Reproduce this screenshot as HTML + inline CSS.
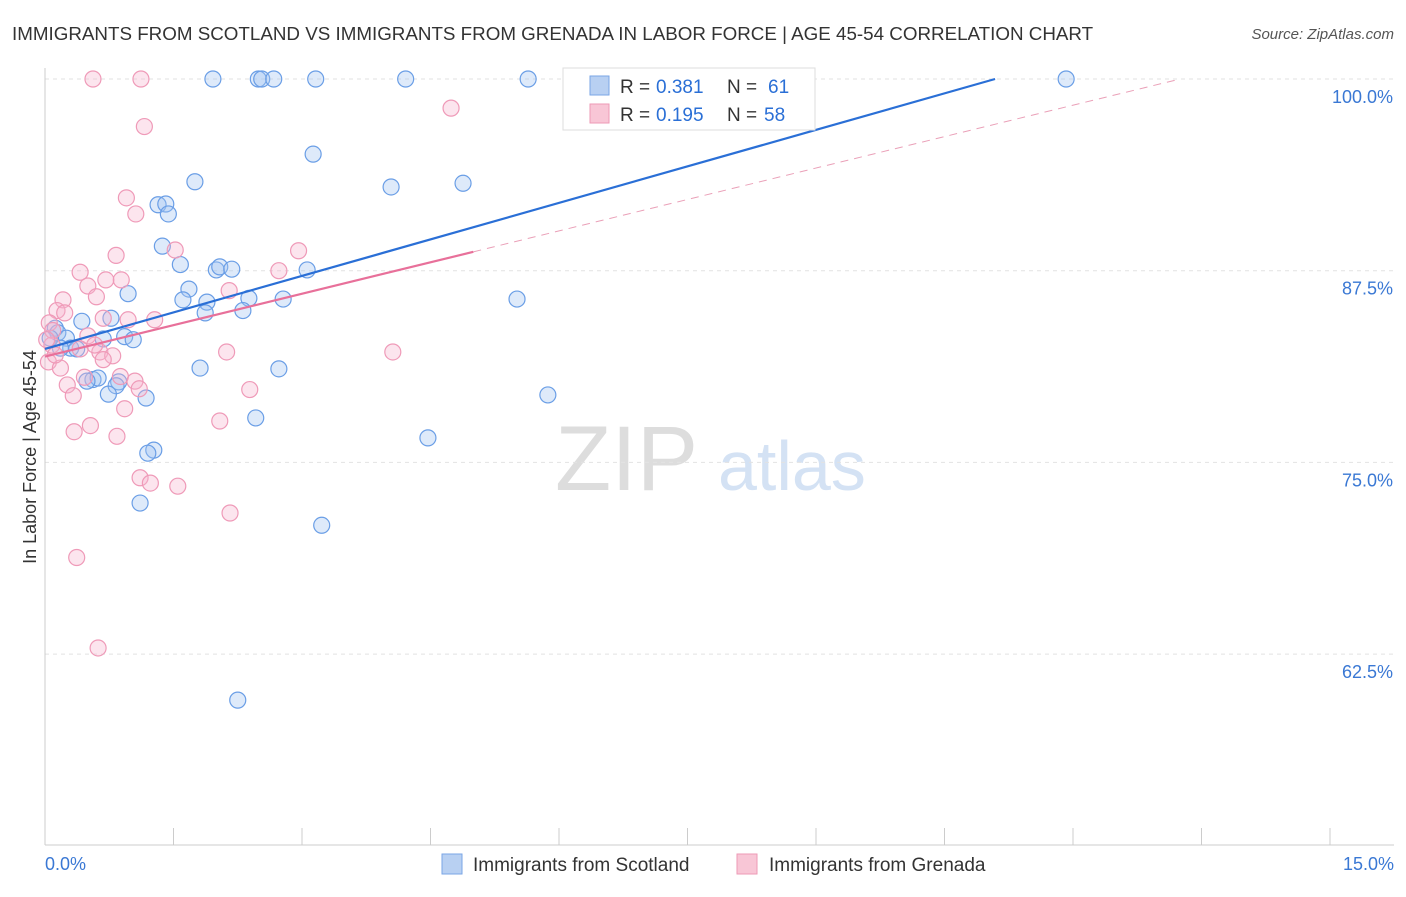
<!DOCTYPE html>
<html><head><meta charset="utf-8"><style>
body{margin:0;background:#fff;font-family:"Liberation Sans",sans-serif;}
svg text{font-family:"Liberation Sans",sans-serif;}
</style></head><body>
<svg id="c" width="1406" height="892">
<text x="12" y="40" font-size="18.8" fill="#333">IMMIGRANTS FROM SCOTLAND VS IMMIGRANTS FROM GRENADA IN LABOR FORCE | AGE 45-54 CORRELATION CHART</text>
<text x="1394" y="39" font-size="15" fill="#555" font-style="italic" text-anchor="end">Source: ZipAtlas.com</text>
<text x="36" y="457" font-size="18" fill="#333" transform="rotate(-90 36 457)" text-anchor="middle">In Labor Force | Age 45-54</text>
<text x="555" y="490" font-size="92" fill="#ddd" font-family="Liberation Serif">ZIP</text>
<text x="718" y="490" font-size="70" fill="#d4e2f4">atlas</text>
<g id="grid"></g><g id="axes"></g><g id="pts"></g><g id="lines"></g>
<g>
<rect x="563" y="68" width="252" height="62" fill="#fff" stroke="#ddd"/>
<rect x="590" y="76" width="19" height="19" fill="#b8d0f2" stroke="#7aa6e6"/>
<rect x="590" y="104" width="19" height="19" fill="#f8c6d6" stroke="#ee9ab6"/>
<text x="620" y="93" font-size="19" fill="#333">R =</text>
<text x="656" y="93" font-size="19" fill="#2a6fd6">0.381</text>
<text x="727" y="93" font-size="19" fill="#333">N =</text>
<text x="768" y="93" font-size="19" fill="#2a6fd6">61</text>
<text x="620" y="121" font-size="19" fill="#333">R =</text>
<text x="656" y="121" font-size="19" fill="#2a6fd6">0.195</text>
<text x="727" y="121" font-size="19" fill="#333">N =</text>
<text x="764" y="121" font-size="19" fill="#2a6fd6">58</text>
</g>
<g>
<rect x="442" y="854" width="20" height="20" fill="#b8d0f2" stroke="#7aa6e6"/>
<text x="473" y="871" font-size="19" fill="#333">Immigrants from Scotland</text>
<rect x="737" y="854" width="20" height="20" fill="#f8c6d6" stroke="#ee9ab6"/>
<text x="769" y="871" font-size="19" fill="#333">Immigrants from Grenada</text>
</g>
</svg>
<script>
const xTicks=[0,1.5,3,4.5,6,7.5,9,10.5,12,13.5,15];
const yTicks=[100,87.5,75,62.5];
const yTickLabels=["100.0%","87.5%","75.0%","62.5%"];
const scotX=[1.96,2.49,2.53,2.67,3.16,4.21,5.64,11.92,3.13,4.04,4.88,1.75,1.32,1.41,1.44,1.37,1.58,2.0,2.04,2.18,3.06,1.68,0.97,1.61,1.89,2.38,2.78,5.51,1.87,2.31,0.43,0.77,0.12,0.15,0.25,0.68,0.93,1.03,0.30,0.37,0.56,0.62,0.49,0.86,0.83,0.74,1.18,1.81,2.73,5.87,2.46,4.47,1.27,1.2,1.11,3.23,2.25,0.18,0.06];
const scotY=[100,100,100,100,100,100,100,100,95.1,92.96,93.2,93.3,91.8,91.85,91.2,89.1,87.9,87.55,87.75,87.6,87.55,86.3,86.0,85.6,85.45,85.7,85.65,85.65,84.75,84.9,84.2,84.4,83.75,83.45,83.1,83.05,83.2,83.0,82.45,82.4,80.4,80.5,80.3,80.25,80.0,79.45,79.2,81.15,81.1,79.4,77.9,76.6,75.8,75.6,72.35,70.9,59.5,82.45,83.1];
const grenX=[0.56,1.12,4.74,1.16,0.95,1.06,1.52,0.83,2.96,0.41,0.89,0.71,0.5,2.73,0.6,0.21,2.15,0.14,0.23,0.68,0.97,1.28,0.05,0.09,0.5,4.06,2.12,0.08,0.41,0.64,0.79,0.68,0.04,0.18,0.46,0.88,1.05,1.1,2.39,0.26,0.33,0.93,2.04,0.53,0.34,0.84,1.11,1.23,1.55,2.16,0.37,0.62,0.02,0.12,0.58];
const grenY=[100,100,98.1,96.9,92.25,91.2,88.85,88.5,88.8,87.4,86.9,86.9,86.5,87.5,85.8,85.6,86.2,84.9,84.75,84.4,84.3,84.3,84.1,83.6,83.25,82.2,82.2,82.65,82.4,82.2,81.95,81.7,81.55,81.15,80.55,80.6,80.3,79.8,79.75,80.05,79.35,78.5,77.7,77.4,77.0,76.7,74.0,73.65,73.45,71.7,68.8,62.9,83.0,82.0,82.65];
const scotFit=[82.4,1.587];
const grenFit=[81.9,1.366];
const NS="http://www.w3.org/2000/svg";
const X=v=>45+v/15*1285, Y=v=>79+(100-v)/12.5*191.7;
function mk(t,a,p){const e=document.createElementNS(NS,t);for(const k in a)e.setAttribute(k,a[k]);document.getElementById(p).appendChild(e);return e;}
yTicks.forEach((t,i)=>{
 const g=mk('line',{x1:45,x2:1394,y1:Y(t),y2:Y(t),stroke:'#e2e2e2','stroke-dasharray':'4,4'},'grid');
 
 
 const l=mk('text',{x:1393,y:Y(t)+24,'font-size':18,fill:'#3a78d4','text-anchor':'end'},'axes');
 l.textContent=yTickLabels[i];
 
 
});
let ax=mk('line',{x1:45,x2:45,y1:68,y2:845,stroke:'#ccc'},'axes');


ax=mk('line',{x1:45,x2:1394,y1:845,y2:845,stroke:'#ccc'},'axes');


xTicks.forEach(t=>{
 const e=mk('line',{x1:X(t),x2:X(t),y1:828,y2:845,stroke:'#ccc'},'axes');
 
 
});
let t=mk('text',{x:45,y:870,'font-size':18,fill:'#3a78d4'},'axes');t.textContent=xTicks[0].toFixed(1)+'%';


t=mk('text',{x:1394,y:870,'font-size':18,fill:'#3a78d4','text-anchor':'end'},'axes');t.textContent=xTicks[xTicks.length-1].toFixed(1)+'%';


scotX.forEach((x,i)=>{const c=mk('circle',{cx:X(x),cy:Y(scotY[i]),r:8,fill:'rgba(160,195,240,0.35)',stroke:'#6a9ee6','stroke-width':1.2},'pts');
 
 });
grenX.forEach((x,i)=>{const c=mk('circle',{cx:X(x),cy:Y(grenY[i]),r:8,fill:'rgba(245,180,205,0.35)',stroke:'#ef9ab8','stroke-width':1.2},'pts');
 
 });
const sx=(100-scotFit[0])/scotFit[1];
let l=mk('line',{x1:X(0),y1:Y(scotFit[0]),x2:X(sx),y2:Y(100),stroke:'#2a6fd6','stroke-width':2.2},'lines');


const gx=Math.max(...grenX)+0.26, ge=(100-grenFit[0])/grenFit[1];
l=mk('line',{x1:X(0),y1:Y(grenFit[0]),x2:X(gx),y2:Y(grenFit[0]+grenFit[1]*gx),stroke:'#e8709a','stroke-width':2.2},'lines');


l=mk('line',{x1:X(gx),y1:Y(grenFit[0]+grenFit[1]*gx),x2:X(ge),y2:Y(100),stroke:'#eaa0b8','stroke-width':1,'stroke-dasharray':'8,6'},'lines');


</script>
</body></html>
